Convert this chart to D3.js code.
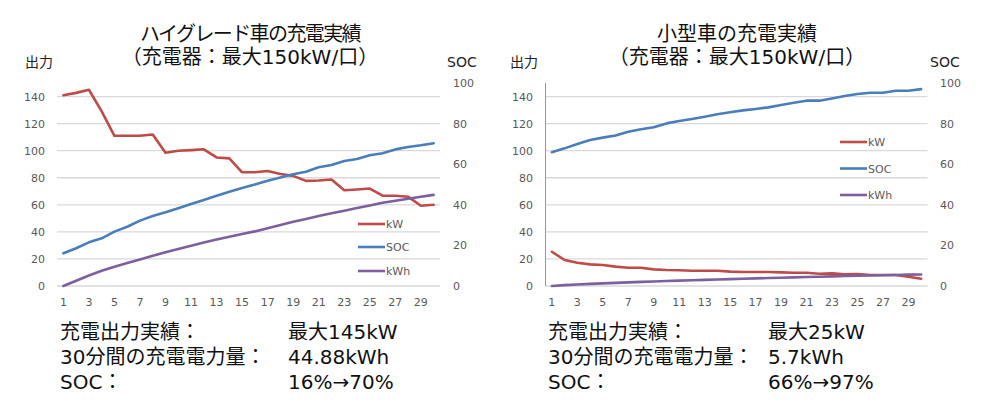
<!DOCTYPE html>
<html><head><meta charset="utf-8">
<script src="https://cdn.jsdelivr.net/npm/d3@7"></script>
<style>body{margin:0;background:#fff}</style>
</head><body><svg id="c" width="1000" height="420"></svg>
<script>
// ---- data ----
const minutes = [1,2,3,4,5,6,7,8,9,10,11,12,13,14,15,16,17,18,19,20,21,22,23,24,25,26,27,28,29,30];
const xTickLabels = [1,3,5,7,9,11,13,15,17,19,21,23,25,27,29];
const leftTicks = [0,20,40,60,80,100,120,140];
const rightTicks = [0,20,40,60,80,100];
const seriesNames = ["kW","SOC","kWh"];

const hgKW  = [141,142.7,145,129,111,111,111,112,98.4,99.9,100.4,101,95,94.3,84,84,85,82.7,81.4,77.7,78,78.7,70.8,71.3,72,66.7,66.7,66,59.3,60];
const hgSOC = [16.1,18.6,21.5,23.5,26.8,29.2,32.2,34.5,36.3,38.3,40.4,42.4,44.5,46.4,48.3,50,51.9,53.4,55,56.3,58.5,59.6,61.6,62.6,64.4,65.4,67.3,68.5,69.3,70.3];
const hgKWh = [0,2.6,5.2,7.5,9.5,11.3,13.1,14.9,16.6,18.2,19.8,21.4,22.9,24.3,25.6,26.9,28.5,30,31.6,33,34.5,35.8,37.1,38.4,39.7,41,42,43,44,44.9];

const smKW  = [25.3,19.2,17.2,16,15.5,14.3,13.5,13.5,12.3,11.8,11.6,11.3,11.3,11.3,10.6,10.3,10.3,10.3,10.1,9.8,9.8,9.1,9.3,8.6,8.8,8.1,8.1,8.1,6.9,5.4];
const smSOC = [65.9,67.8,69.9,71.9,73.1,74.1,76,77.2,78.2,80.1,81.3,82.3,83.4,84.6,85.6,86.5,87.2,88,89.2,90.3,91.3,91.3,92.4,93.6,94.6,95.2,95.2,96.2,96.2,97];
const smKWh = [0,0.42,0.74,1.03,1.29,1.55,1.79,2.01,2.24,2.45,2.64,2.84,3.02,3.21,3.4,3.58,3.75,3.92,4.09,4.26,4.42,4.59,4.74,4.89,5.04,5.18,5.32,5.45,5.59,5.7];

const titleLine1 = ["ハイグレード車の充電実績","小型車の充電実績"];
const titleLine2 = "（充電器：最大150kW/口）";
const leftAxisTitle = "出力";
const rightAxisTitle = "SOC";
const statLabels = ["充電出力実績：","30分間の充電電力量：","SOC："];
const hgStats = ["最大145kW","44.88kWh","16%→70%"];
const smStats = ["最大25kW","5.7kWh","66%→97%"];

// ---- drawing ----
const svg = d3.select("#c");
const colors = {kW:"#BE4B48", SOC:"#4A7EBB", kWh:"#7D5FA0"};
const gray = "#595959";
const latin = "'DejaVu Sans', 'Noto Sans CJK JP', sans-serif";
const cjk = "'Noto Sans CJK JP', sans-serif";

const panels = [
  {x0:57, x1:440, kw:hgKW, soc:hgSOC, kwh:hgKWh, title:titleLine1[0], stats:hgStats, titleSpacing:-1.6,
   leftLblX:45, rightLblX:453, axTitleL:25, axTitleR:447, legX:358, legY:[224,247,271], legW:27,
   statX:60, valX:288, axisLine:false, titleCX:250},
  {x0:545.5, x1:927.5, kw:smKW, soc:smSOC, kwh:smKWh, title:titleLine1[1], stats:smStats, titleSpacing:0,
   leftLblX:533, rightLblX:940, axTitleL:510, axTitleR:930, legX:840, legY:[142,168.5,195], legW:27,
   statX:548, valX:768, axisLine:true, titleCX:737}
];

const yTop = 83, yBot = 286;

panels.forEach(p => {
  const g = svg.append("g");
  const x = d3.scaleBand().domain(minutes).range([p.x0, p.x1]);
  const yL = d3.scaleLinear().domain([0,150]).range([yBot, yTop]);
  const yR = d3.scaleLinear().domain([0,100]).range([yBot, yTop]);
  const cx = d => x(d) + x.bandwidth()/2;

  // gridlines
  g.append("g").selectAll("line").data(leftTicks).join("line")
    .attr("x1", p.x0).attr("x2", p.x1)
    .attr("y1", d => yL(d)).attr("y2", d => yL(d))
    .attr("stroke", "#d9d9d9").attr("stroke-width", 1.3);

  if (p.axisLine) {
    g.append("line").attr("x1", p.x0).attr("x2", p.x0).attr("y1", yTop).attr("y2", yBot)
      .attr("stroke", "#7A9CCB").attr("stroke-width", 1);
  }

  // left tick labels
  const axL = d3.axisLeft(yL).tickValues(leftTicks).tickSize(0).tickPadding(0);
  const gL = g.append("g").attr("transform", `translate(${p.leftLblX},0)`).call(axL);
  gL.select(".domain").remove();
  gL.selectAll("text").attr("fill", gray).style("font", `11px ${latin}`);

  // right tick labels
  const axR = d3.axisRight(yR).tickValues(rightTicks).tickSize(0).tickPadding(0);
  const gR = g.append("g").attr("transform", `translate(${p.rightLblX},0)`).call(axR);
  gR.select(".domain").remove();
  gR.selectAll("text").attr("fill", gray).style("font", `11px ${latin}`);

  // x tick labels
  const axX = d3.axisBottom(x).tickValues(xTickLabels).tickSize(0).tickPadding(0);
  const gX = g.append("g").attr("transform", `translate(0,${yBot + 12})`).call(axX);
  gX.select(".domain").remove();
  gX.selectAll("text").attr("fill", gray).style("font", `11px ${latin}`);

  // lines
  const lineL = d3.line().x((d,i) => cx(minutes[i])).y(d => yL(d));
  const lineR = d3.line().x((d,i) => cx(minutes[i])).y(d => yR(d));
  const series = [
    {name:"kW", data:p.kw, gen:lineL},
    {name:"SOC", data:p.soc, gen:lineR},
    {name:"kWh", data:p.kwh, gen:lineR}
  ];
  series.forEach(s => {
    g.append("path").attr("d", s.gen(s.data)).attr("fill","none")
      .attr("stroke", colors[s.name]).attr("stroke-width", 2.6)
      .attr("stroke-linejoin","round").attr("stroke-linecap","round");
  });

  // legend
  seriesNames.forEach((n,i) => {
    g.append("line").attr("x1", p.legX).attr("x2", p.legX + p.legW)
      .attr("y1", p.legY[i]).attr("y2", p.legY[i])
      .attr("stroke", colors[n]).attr("stroke-width", 2.6);
    g.append("text").attr("x", p.legX + p.legW + 1).attr("y", p.legY[i] + 4)
      .attr("fill", gray).style("font", `11px ${latin}`).text(n);
  });

  // axis titles
  g.append("text").attr("x", p.axTitleL).attr("y", 67).attr("fill", "#222")
    .style("font", `14px ${cjk}`).text(leftAxisTitle);
  g.append("text").attr("x", p.axTitleR).attr("y", 67).attr("fill", "#222")
    .style("font", `14px ${latin}`).text(rightAxisTitle);

  // chart title (two lines in one text element)
  const t = g.append("text").attr("text-anchor","middle").attr("fill", "#111");
  t.append("tspan").attr("x", p.titleCX).attr("y", 41)
    .style("font", `20px ${cjk}`).style("letter-spacing", `${p.titleSpacing}px`).text(p.title);
  t.append("tspan").attr("x", p.titleCX).attr("y", 64)
    .style("font", `20px ${latin}`).text(titleLine2);

  // stats
  statLabels.forEach((s,i) => {
    g.append("text").attr("x", p.statX).attr("y", 339 + i*25).attr("fill","#111")
      .style("font", `20px ${latin}`).text(s);
    g.append("text").attr("x", p.valX).attr("y", 339 + i*25).attr("fill","#111")
      .style("font", `20px ${latin}`).text(p.stats[i]);
  });
});
</script></body></html>
